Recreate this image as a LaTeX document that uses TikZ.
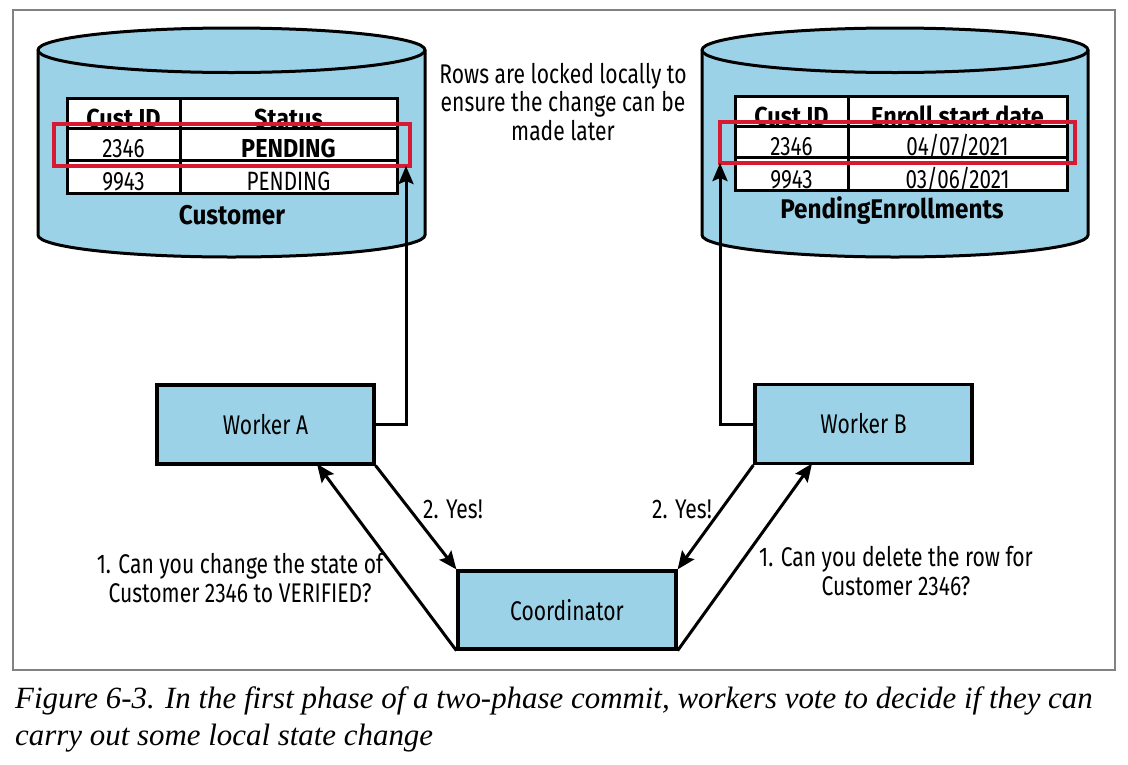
\documentclass[tikz,border=0pt]{standalone}
\usepackage{fontspec}
\setmainfont{Fira Sans}[FakeStretch=0.78]
\newfontfamily\dbbold{Fira Sans}[FakeStretch=0.9]
\newfontfamily\capfont{Liberation Serif}
\usetikzlibrary{arrows.meta}
\definecolor{dbblue}{RGB}{156,210,232}
\definecolor{lockred}{RGB}{215,25,50}
\definecolor{framegray}{RGB}{130,130,130}
\tikzset{
  box/.style={draw=black, fill=dbblue, line width=3.2pt, minimum width=217pt, minimum height=79pt, inner sep=0pt, font=\fontsize{27}{29}\selectfont},
  arr/.style={line width=3pt, -{Stealth[length=18pt,width=15pt,inset=3pt]}},
  cyl/.style={draw=black, fill=dbblue, line width=3pt},
  tbl/.style={draw=black, line width=3pt},
  lock/.style={draw=lockred, line width=4pt},
  cell/.style={inner sep=0pt, anchor=base, font=\fontsize{26.5}{29}\selectfont},
  hcell/.style={inner sep=0pt, anchor=base, font=\dbbold\bfseries\fontsize{26}{29}\selectfont},
  dblabel/.style={inner sep=0pt, anchor=base, font=\dbbold\bfseries\fontsize{27}{30}\selectfont},
  note/.style={inner sep=0pt, align=center, font=\fontsize{27}{28.5}\selectfont},
}
\begin{document}
\begin{tikzpicture}[x=1pt, y=-1pt]
\useasboundingbox (0,0) rectangle (1128,764);
\draw[framegray, line width=1.2pt] (13,10) rectangle (1115,670);

% ---------- left cylinder (Customer)
\path[cyl] (38,50) -- (38,235) arc (180:0:193.5 and 22) -- (425,50) arc (0:-180:193.5 and 22) -- cycle;
\draw[line width=3pt] (38,50) arc (180:0:193.5 and 22.5);
\path[fill=white] (67,98) rectangle (397,193);
\node[hcell] (ch1) at (123.5,127) {Cust ID};
\node[hcell] (ch2) at (288.5,127) {Status};
\node[cell] (c11) at (123.5,157) {2346};
\node[hcell] (c12) at (288.5,157) {PENDING};
\node[cell] (c21) at (123.5,190) {9943};
\node[cell] (c22) at (288.5,190) {PENDING};
\draw[tbl] (67,98) rectangle (397,193);
\draw[tbl] (67,128) -- (397,128) (67,160) -- (397,160) (180,98) -- (180,193);
\draw[lock] (54,124) rectangle (410,166);
\coordinate (atA) at (406,166);
\node[dblabel] (custlbl) at (232,224) {Customer};

% ---------- right cylinder (PendingEnrollments)
\path[cyl] (702,50) -- (702,235) arc (180:0:193 and 22) -- (1088,50) arc (0:-180:193 and 22) -- cycle;
\draw[line width=3pt] (702,50) arc (180:0:193 and 22.5);
\path[fill=white] (735,96) rectangle (1067,190);
\node[hcell] (ph1) at (791.5,125) {Cust ID};
\node[hcell] (ph2) at (957.5,125) {Enroll start date};
\node[cell] (p11) at (791.5,155) {2346};
\node[cell] (p12) at (957.5,155) {04/07/2021};
\node[cell] (p21) at (791.5,188) {9943};
\node[cell] (p22) at (957.5,188) {03/06/2021};
\draw[tbl] (735,96) rectangle (1067,190);
\draw[tbl] (735,126) -- (1067,126) (735,157) -- (1067,157) (848,96) -- (848,190);
\draw[lock] (720,122) rectangle (1075,163);
\coordinate (atB) at (720,163);
\node[dblabel] (penlbl) at (892,218) {PendingEnrollments};

% ---------- note (base anchor = last line)
\node[note, anchor=base] (locknote) at (563,140) {Rows are locked locally to\\ensure the change can be\\made later};

% ---------- workers and coordinator
\node[box] (wa) at (265.5,424.5) {Worker A};
\node[box] (wb) at (863.5,424) {Worker B};
\node[box, minimum width=218pt, minimum height=78pt] (co) at (567,610) {Coordinator};
\coordinate (waIn) at (317,464);
\coordinate (wbIn) at (812,463.5);

\draw[arr] (wa.east) -| (atA);
\draw[arr] (wb.west) -| (atB);
\draw[arr] (wa.south east) -- (co.north west);
\draw[arr] (co.south west) -- (waIn);
\draw[arr] (wb.south west) -- (co.north east);
\draw[arr] (co.south east) -- (wbIn);

\node[note, anchor=base west] (yesA) at (423,518) {2. Yes!};
\node[note, anchor=base west] (yesB) at (652,518) {2. Yes!};
\node[note, anchor=base] (qA) at (240,602) {1. Can you change the state of\\Customer 2346 to VERIFIED?};
\node[note, anchor=base] (qB) at (896,595) {1. Can you delete the row for\\Customer 2346?};

% ---------- caption (base anchor = last line)
\node[inner sep=0pt, anchor=base west, align=left, font=\capfont\itshape\fontsize{30.9}{37}\selectfont] (cap) at (15,745) {Figure 6-3. In the first phase of a two-phase commit, workers vote to decide if they can\\carry out some local state change};
\end{tikzpicture}
\end{document}
